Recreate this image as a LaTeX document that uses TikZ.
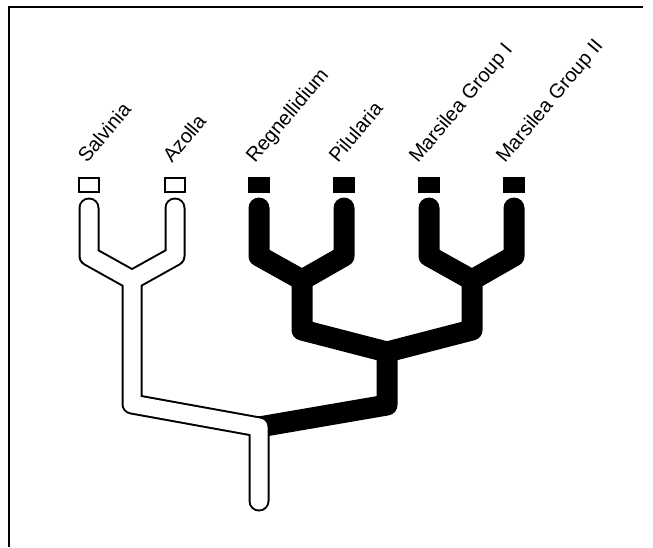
\documentclass[tikz,border=0pt]{standalone}
\usepackage{fontspec}
\setmainfont{Liberation Sans}
\usetikzlibrary{positioning}

\begin{document}
\begin{tikzpicture}[
  x=1pt, y=-1pt,
  every node/.style={font=\fontsize{20}{24}\selectfont},
  tipbox/.style={draw, line width=2pt, minimum width=20pt, minimum height=14pt, inner sep=0pt},
  taxon/.style={anchor=base west, rotate=50, inner sep=0pt},
  branch/.style={line width=21pt, line cap=round, line join=round},
  hollow/.style={line width=17pt, line cap=round, line join=round, white},
]
  \useasboundingbox (0,0) rectangle (653,547);

  % Frame (top and left edges only)
  \draw[line width=2.5pt] (643,7) -- (9,7) -- (9,547);

  % Tip boxes
  \node[tipbox, fill=white] (sal)  at (89,185)  {};
  \node[tipbox, fill=white] (azo)  at (175,185) {};
  \node[tipbox, fill=black] (reg)  at (259,185) {};
  \node[tipbox, fill=black] (pil)  at (344,185) {};
  \node[tipbox, fill=black] (mar1) at (429,185) {};
  \node[tipbox, fill=black] (mar2) at (514,185) {};

  % Taxon labels
  \foreach \t/\dx/\txt in {sal/-2/Salvinia, azo/-3/Azolla, reg/-4/Regnellidium,
      pil/-6/Pilularia, mar1/-11/{Marsilea Group I}, mar2/-9/{Marsilea Group II}}
    \node[taxon] (l-\t) at ([shift={(\dx,-29)}]\t.south) {\txt};

  % Forks
  \coordinate (fA)   at (132,280); % Salvinia + Azolla
  \coordinate (fR)   at (302,280); % Regnellidium + Pilularia
  \coordinate (fM)   at (472,280); % Marsilea groups
  \coordinate (fB)   at (387,352); % the two black clades
  \coordinate (root) at (259,427);
  \coordinate (base) at (259,501);

  % Black clade
  \draw[branch] ([yshift=-15pt]reg.south) -- ++(0,48) -- (fR)
                -- ([yshift=-63pt]pil.south) -- ([yshift=-15pt]pil.south);
  \draw[branch] ([yshift=-15pt]mar1.south) -- ++(0,48) -- (fM)
                -- ([yshift=-63pt]mar2.south) -- ([yshift=-15pt]mar2.south);
  \draw[branch] (fR) -- ++(0,50) -- (fB);
  \draw[branch] (fM) -- ++(0,50) -- (fB);
  \draw[branch] (fB) -- ++(0,53) -- (root);

  % White clade: outline, then inside
  \foreach \s/\c in {branch/black, hollow/white} {
    \draw[\s, \c] ([yshift=-15pt]sal.south) -- ++(0,48) -- (fA)
                  -- ([yshift=-63pt]azo.south) -- ([yshift=-15pt]azo.south);
    \draw[\s, \c] (fA) -- ++(0,124) -- (root) -- (base);
  }
\end{tikzpicture}
\end{document}
